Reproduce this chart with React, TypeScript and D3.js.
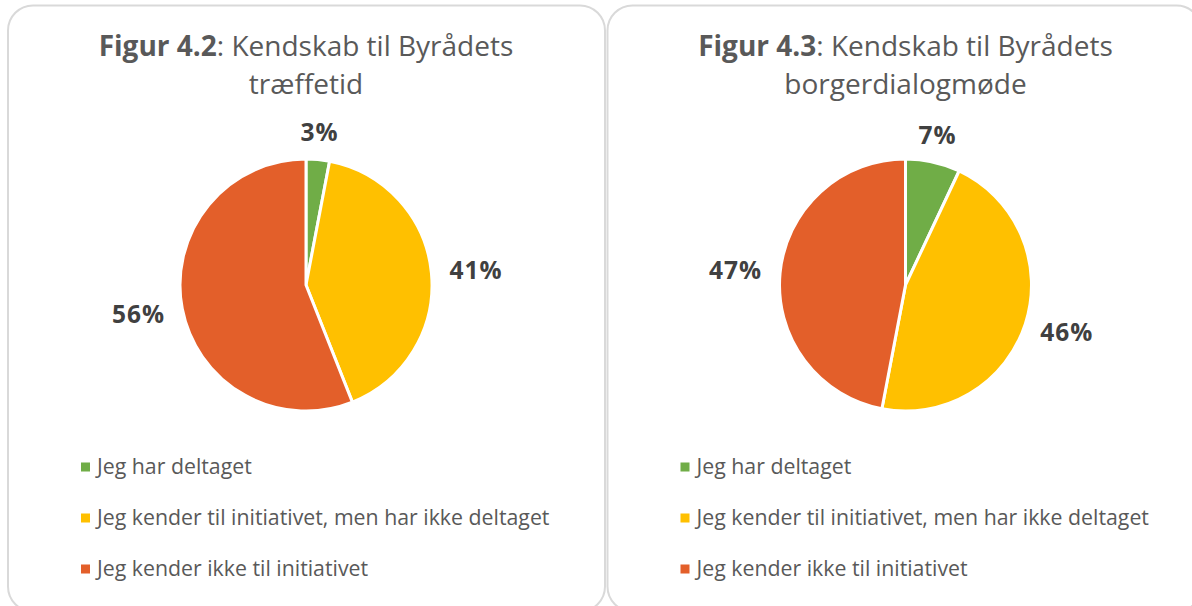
import React from "react";
import * as d3 from "d3";

const categories = [
  "Jeg har deltaget",
  "Jeg kender til initiativet, men har ikke deltaget",
  "Jeg kender ikke til initiativet",
];
const colors = ["#70AD47", "#FFC000", "#E35F2A"];

const values42 = [3, 41, 56];
const values43 = [7, 46, 47];

const charts = [
  { fig: "Figur 4.2", title1: ": Kendskab til Byrådets", title2: "træffetid", values: values42 },
  { fig: "Figur 4.3", title1: ": Kendskab til Byrådets", title2: "borgerdialogmøde", values: values43 },
];

const W = 1192;
const H = 606;
const FONT = "'Open Sans', 'Noto Sans', sans-serif";

function Panel({ chart, x0, pw }: { chart: any; x0: number; pw: number }) {
  const cx = 298;
  const cy = 285;
  const r = 126;
  const labelR = r + 17;

  const pie = d3.pie<number>().sort(null).value((d) => d);
  const arcs = pie(chart.values);
  const arc = d3.arc<d3.PieArcDatum<number>>().innerRadius(0).outerRadius(r);

  return (
    <g transform={`translate(${x0},0)`}>
      <rect x={0} y={5.5} width={pw} height={606} rx={25} ry={25} fill="#fff" stroke="#d9d9d9" strokeWidth={2} />
      <text x={cx} y={56} textAnchor="middle" fontSize={28} fill="#595959" fontFamily={FONT}>
        <tspan fontWeight="bold">{chart.fig}</tspan>
        <tspan>{chart.title1}</tspan>
      </text>
      <text x={cx} y={94} textAnchor="middle" fontSize={28} fill="#595959" fontFamily={FONT}>
        {chart.title2}
      </text>
      <g transform={`translate(${cx},${cy})`}>
        {arcs.map((a, i) => (
          <path key={i} d={arc(a) || ""} fill={colors[i]} stroke="#fff" strokeWidth={3} strokeLinejoin="round" />
        ))}
        {arcs.map((a, i) => {
          const mid = (a.startAngle + a.endAngle) / 2;
          const ux = Math.sin(mid);
          const uy = -Math.cos(mid);
          const label = a.data + "%";
          const hw = label.length * 9.3;
          const hh = 9;
          const lx = ux * (labelR + hw * Math.abs(ux));
          const ly = uy * (labelR + hh + 2);
          return (
            <text key={"l" + i} x={lx} y={ly} dy="0.36em" textAnchor="middle" fontSize={24.5} letterSpacing={1} fontWeight="bold" fill="#404040" fontFamily={FONT}>
              {label}
            </text>
          );
        })}
      </g>
      {categories.map((c, i) => (
        <g key={c} transform={`translate(73,${467 + i * 51})`}>
          <rect x={0} y={-4.5} width={9} height={9} fill={colors[i]} />
          <text x={16} y={0} dy="0.35em" fontSize={21.3} fill="#595959" fontFamily={FONT}>
            {c}
          </text>
        </g>
      ))}
    </g>
  );
}

export default function App() {
  return (
    <svg width={W} height={H} style={{ position: "absolute", left: 0, top: 0, background: "#fff" }}>
      <Panel chart={charts[0]} x0={8} pw={597} />
      <Panel chart={charts[1]} x0={607.5} pw={594} />
    </svg>
  );
}
